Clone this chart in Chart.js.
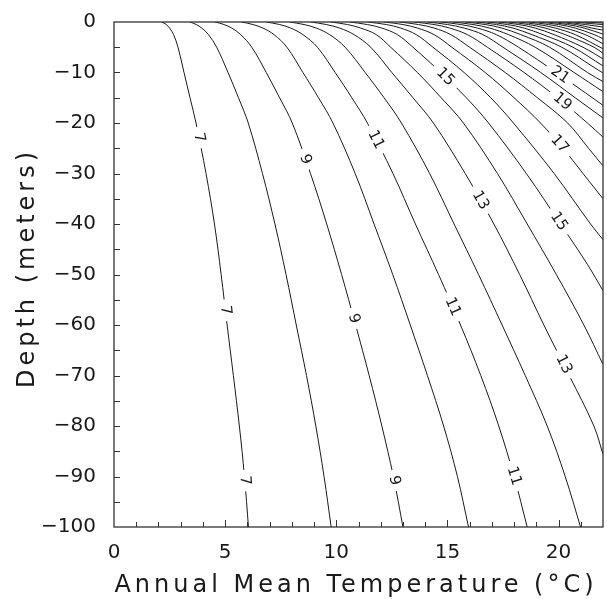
<!DOCTYPE html>
<html>
<head>
<meta charset="utf-8">
<title>Depth vs annual mean temperature</title>
<script src="https://cdn.jsdelivr.net/npm/chart.js@4.4.1/dist/chart.umd.min.js"></script>
<style>
  html, body { margin: 0; padding: 0; background: #fff; }
</style>
</head>
<body>
<canvas id="chart" width="607" height="599"></canvas>
<script>
// axis ranges and text
const xTitle = 'Annual Mean Temperature (\u00B0C)';
const yTitle = 'Depth (meters)';
const xMin = 0, xMax = 22, xStep = 5, xMinor = 1;
const yMin = -100, yMax = 0, yStep = 10, yMinor = 5;

// contour lines, each [temperature, depth]
const contourLevels = [7, 8, 9, 10, 11, 12, 13, 14, 15, 16, 17, 18, 19, 20, 21,
    22, 23, 24, 25, 26, 27, 28, 29, 30, 31, 32, 33, 34, 35];

const c07 = [[2.15, 0], [2.35, -0.5], [2.5, -1.2], [2.68, -2.5], [2.88, -5], [3.15, -10], [3.42, -15], [3.69, -20], [4.14, -30], [4.52, -40], [4.82, -50], [5.09, -60], [5.37, -70], [5.64, -80], [5.87, -90], [6.05, -100]];
const c08 = [[3.42, 0], [3.7, -0.5], [3.95, -1.2], [4.25, -2.5], [4.62, -5], [5.13, -10], [5.6, -15], [6.04, -20], [6.68, -30], [7.24, -40], [7.74, -50], [8.2, -60], [8.66, -70], [9.08, -80], [9.45, -90], [9.77, -100]];
const c09 = [[4.55, 0], [4.95, -0.5], [5.3, -1.2], [5.7, -2.5], [6.2, -5], [6.85, -10], [7.45, -15], [8.02, -20], [8.84, -30], [9.57, -40], [10.24, -50], [10.87, -60], [11.48, -70], [12.05, -80], [12.57, -90], [13.0, -100]];
const c10 = [[5.75, 0], [6.25, -0.5], [6.7, -1.2], [7.2, -2.5], [7.78, -5], [8.5, -10], [9.2, -15], [9.85, -20], [10.85, -30], [11.7, -40], [12.54, -50], [13.33, -60], [14.1, -70], [14.83, -80], [15.45, -90], [15.95, -100]];
const c11 = [[6.85, 0], [7.45, -0.5], [7.95, -1.2], [8.5, -2.5], [9.15, -5], [9.95, -10], [10.7, -15], [11.4, -20], [12.55, -30], [13.56, -40], [14.6, -50], [15.59, -60], [16.5, -70], [17.31, -80], [18.0, -90], [18.59, -100]];
const c12 = [[7.9, 0], [8.55, -0.5], [9.1, -1.2], [9.7, -2.5], [10.4, -5], [11.3, -10], [12.15, -15], [12.93, -20], [14.2, -30], [15.3, -40], [16.4, -50], [17.46, -60], [18.5, -70], [19.49, -80], [20.3, -90], [20.99, -100]];
const c13 = [[8.85, 0], [9.55, -0.5], [10.15, -1.2], [10.8, -2.5], [11.55, -5], [12.5, -10], [13.45, -15], [14.37, -20], [15.8, -30], [17.09, -40], [18.25, -50], [19.34, -60], [20.48, -70], [21.59, -80], [22, -85.6]];
const c14 = [[9.75, 0], [10.5, -0.5], [11.1, -1.2], [11.8, -2.5], [12.45, -5], [13.65, -10], [14.72, -15], [15.72, -20], [17.25, -30], [18.59, -40], [19.9, -50], [21.14, -60], [22, -67.8]];
const c15 = [[10.6, 0], [11.4, -0.5], [12.05, -1.2], [12.75, -2.5], [13.45, -5], [14.7, -10], [15.85, -15], [16.85, -20], [18.55, -30], [20.09, -40], [21.3, -48], [22, -53.2]];
const c16 = [[11.4, 0], [12.25, -0.5], [12.9, -1.2], [13.6, -2.5], [14.35, -5], [15.75, -10], [16.95, -15], [17.97, -20], [19.8, -30], [21.44, -40], [22, -43.1]];
const c17 = [[12.15, 0], [13.0, -0.5], [13.65, -1.2], [14.4, -2.5], [15.2, -5], [16.7, -10], [18.0, -15], [19.19, -20], [20.2, -25], [21.1, -30], [22, -35]];
const c18 = [[12.85, 0], [13.7, -0.5], [14.4, -1.2], [15.15, -2.5], [16.0, -5], [17.6, -10], [19.05, -15], [20.41, -20], [21.35, -25], [22, -28.5]];
const c19 = [[13.5, 0], [14.4, -0.5], [15.1, -1.2], [15.9, -2.5], [16.8, -5], [18.45, -10], [19.95, -15], [21.3, -20], [22, -22.8]];
const c20 = [[14.1, 0], [15.0, -0.5], [15.75, -1.2], [16.6, -2.5], [17.5, -5], [19.2, -10], [20.75, -15], [22, -19]];
const c21 = [[14.7, 0], [15.6, -0.5], [16.35, -1.2], [17.2, -2.5], [18.2, -5], [19.9, -10], [21.2, -14], [22, -16.5]];
const c22 = [[15.25, 0], [16.15, -0.5], [16.9, -1.2], [17.75, -2.5], [18.95, -5], [20.7, -10], [22, -13.8]];
const c23 = [[15.8, 0], [16.7, -0.5], [17.45, -1.2], [18.3, -2.5], [19.6, -5], [21.3, -10], [22, -11.8]];
const c24 = [[16.3, 0], [17.2, -0.5], [17.95, -1.2], [18.8, -2.5], [20.15, -5], [21.6, -9], [22, -10.1]];
const c25 = [[16.8, 0], [17.7, -0.5], [18.45, -1.2], [19.3, -2.5], [20.65, -5], [22, -8.7]];
const c26 = [[17.3, 0], [18.2, -0.5], [18.95, -1.2], [19.8, -2.5], [21.1, -5], [22, -7.3]];
const c27 = [[17.75, 0], [18.65, -0.5], [19.4, -1.2], [20.3, -2.5], [21.6, -5], [22, -6.2]];
const c28 = [[18.2, 0], [19.1, -0.5], [19.85, -1.2], [20.75, -2.5], [22, -5.3]];
const c29 = [[18.65, 0], [19.55, -0.5], [20.3, -1.2], [21.2, -2.5], [22, -4.3]];
const c30 = [[19.1, 0], [20.0, -0.5], [20.75, -1.2], [21.6, -2.5], [22, -3.3]];
const c31 = [[19.5, 0], [20.4, -0.5], [21.15, -1.2], [22, -2.4]];
const c32 = [[19.9, 0], [20.8, -0.5], [21.5, -1.2], [22, -1.6]];
const c33 = [[20.3, 0], [21.2, -0.5], [22, -1.0]];
const c34 = [[20.7, 0], [21.4, -0.3], [22, -0.5]];
const c35 = [[21.1, 0], [22, -0.2]];

const contourLines = [c07, c08, c09, c10, c11, c12, c13, c14, c15, c16, c17, c18, c19, c20, c21,
    c22, c23, c24, c25, c26, c27, c28, c29, c30, c31, c32, c33, c34, c35];

// inline contour labels: level and the depth where it sits
const labelLevels = [7, 7, 7, 9, 9, 9, 11, 11, 11, 13, 13, 15, 15, 17, 19, 21];
const labelDepths = [-22.9, -57.1, -90.8, -27.2, -58.7, -90.8, -23.3, -56.4, -89.9, -35.3, -67.8, -10.9, -39.5, -24.2, -15.8, -10.5];

const ink = '#1a1a1a';
const fontFamily = '"DejaVu Sans", sans-serif';

const datasets = contourLines.map((pts, i) => ({
    label: String(contourLevels[i]),
    data: pts.map(p => ({ x: p[0], y: p[1] })),
    showLine: true,
    borderColor: ink,
    borderWidth: 1,
    pointRadius: 0,
    tension: 0.35
}));

// labels on the contours, box, inward ticks and spaced titles
const decorations = {
    id: 'decorations',
    afterDatasetsDraw(chart) {
        const ctx = chart.ctx;
        const yScale = chart.scales.y;
        ctx.save();
        ctx.font = '15px ' + fontFamily;
        ctx.textAlign = 'center';
        ctx.textBaseline = 'middle';
        labelLevels.forEach((lev, k) => {
            const meta = chart.getDatasetMeta(contourLevels.indexOf(lev));
            const py = yScale.getPixelForValue(labelDepths[k]);
            const pts = meta.data;
            for (let j = 0; j < pts.length - 1; j++) {
                const p = pts[j], q = pts[j + 1];
                if (py >= p.y && py <= q.y) {
                    const f = (py - p.y) / ((q.y - p.y) || 1);
                    const px = p.x + f * (q.x - p.x);
                    const ang = Math.atan2(q.y - p.y, q.x - p.x);
                    const txt = String(lev);
                    const w = ctx.measureText(txt).width + 12;
                    ctx.save();
                    ctx.translate(px, py);
                    ctx.rotate(ang);
                    ctx.fillStyle = '#fff';
                    ctx.fillRect(-w / 2, -5, w, 10);
                    ctx.fillStyle = ink;
                    ctx.fillText(txt, 0, 0);
                    ctx.restore();
                    break;
                }
            }
        });
        ctx.restore();
    },
    afterDraw(chart) {
        const ctx = chart.ctx;
        const a = chart.chartArea;
        const { x, y } = chart.scales;
        ctx.save();
        ctx.strokeStyle = '#333';
        ctx.lineWidth = 1.3;
        ctx.strokeRect(a.left, a.top, a.right - a.left, a.bottom - a.top);

        ctx.lineWidth = 1;
        ctx.beginPath();
        for (let v = xMin + xMinor; v < xMax; v += xMinor) {
            const px = Math.round(x.getPixelForValue(v)) + 0.5;
            ctx.moveTo(px, a.bottom);
            ctx.lineTo(px, a.bottom - (v % xStep === 0 ? 7 : 5));
        }
        for (let v = yMin + yMinor; v < yMax; v += yMinor) {
            const py = Math.round(y.getPixelForValue(v)) + 0.5;
            ctx.moveTo(a.left, py);
            ctx.lineTo(a.left + 6, py);
        }
        ctx.stroke();

        ctx.fillStyle = ink;
        ctx.font = '24px ' + fontFamily;
        ctx.letterSpacing = '4px';
        ctx.textAlign = 'center';
        ctx.textBaseline = 'alphabetic';
        ctx.fillText(xTitle, 356, 592);

        ctx.translate(34, 268);
        ctx.rotate(-Math.PI / 2);
        ctx.fillText(yTitle, 0, 0);
        ctx.restore();
    }
};

const minusSign = v => (v < 0 ? '\u2212' + Math.abs(v) : String(v));

new Chart(document.getElementById('chart'), {
    type: 'scatter',
    data: { datasets: datasets },
    options: {
        responsive: false,
        animation: false,
        events: [],
        layout: { padding: { top: 14, right: 4, left: 0, bottom: 0 } },
        plugins: {
            legend: { display: false },
            tooltip: { enabled: false }
        },
        scales: {
            x: {
                type: 'linear',
                min: xMin,
                max: xMax,
                grid: { display: false },
                border: { display: false },
                ticks: {
                    stepSize: xStep,
                    includeBounds: false,
                    maxRotation: 0,
                    padding: 6,
                    color: ink,
                    font: { family: fontFamily, size: 20 },
                    callback: minusSign
                },
                afterFit(scale) { scale.height = 72; }
            },
            y: {
                type: 'linear',
                min: yMin,
                max: yMax,
                grid: { display: false },
                border: { display: false },
                ticks: {
                    stepSize: yStep,
                    padding: 10,
                    color: ink,
                    font: { family: fontFamily, size: 20 },
                    callback: minusSign
                },
                afterFit(scale) { scale.width = 114; }
            }
        }
    },
    plugins: [decorations]
});
</script>
</body>
</html>
